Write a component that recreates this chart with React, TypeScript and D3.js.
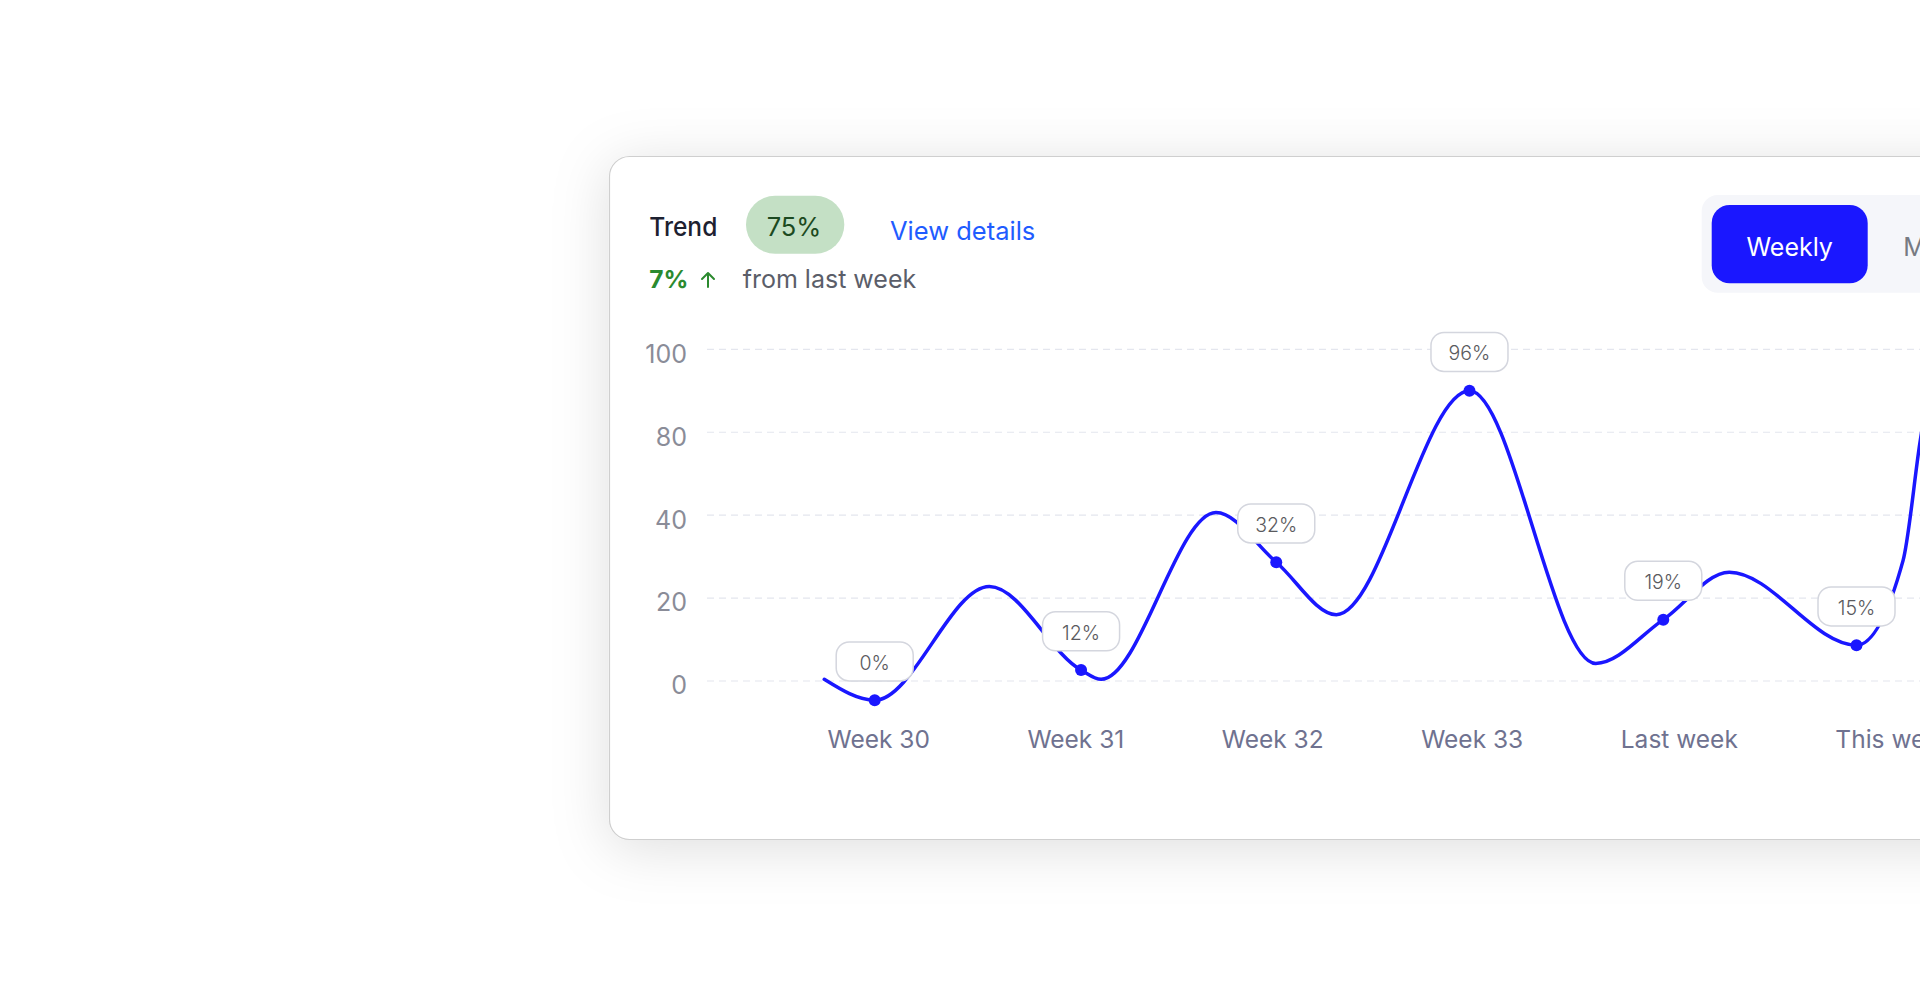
import React, { useEffect, useRef } from "react";
import * as d3 from "d3";

// ---- data ----
const weekLabels = ["Week 30", "Week 31", "Week 32", "Week 33", "Last week", "This week"];
const pointLabels = ["0%", "12%", "32%", "96%", "19%", "15%"];
const yTickValues = [0, 25, 50, 75, 100];
const yTickLabels = ["0", "20", "40", "80", "100"];
// smooth trend curve samples: position in weeks (0 = Week 30) and value on the axis scale
const curveT = [-0.257, 0, 0.584, 1.051, 1.153, 1.738, 2.045, 2.351, 3.029, 3.672, 4.016, 4.352, 5, 5.237, 5.323, 5.45];
const curveV = [0.5, -5.8, 28.5, 3.3, 0.5, 50.8, 35.8, 20, 87.5, 5.3, 18.5, 32.8, 10.8, 36.3, 71.8, 115];
// which curve samples carry a labelled marker
const markerIndex = [1, 3, 6, 8, 10, 12];

const headerTitle = "Trend";
const headerValue = "75%";
const headerLink = "View details";
const changeValue = "7%";
const changeText = "from last week";
const toggleOptions = ["Weekly", "Monthly"];

const FONT = "Inter, 'Noto Sans', sans-serif";
const BLUE = "#1a17ff";

export default function App() {
  const ref = useRef<SVGSVGElement>(null);

  useEffect(() => {
    const svg = d3.select(ref.current);
    svg.selectAll("*").remove();

    const defs = svg.append("defs");
    const f = defs
      .append("filter")
      .attr("id", "cardShadow")
      .attr("x", "-20%")
      .attr("y", "-30%")
      .attr("width", "140%")
      .attr("height", "160%");
    f.append("feDropShadow")
      .attr("dx", 0)
      .attr("dy", 8)
      .attr("stdDeviation", 28)
      .attr("flood-color", "#000")
      .attr("flood-opacity", 0.13);

    // card
    svg
      .append("rect")
      .attr("x", 609.5)
      .attr("y", 156.5)
      .attr("width", 1400)
      .attr("height", 683)
      .attr("rx", 20)
      .attr("fill", "#fff")
      .attr("stroke", "#cfcfcf")
      .attr("stroke-width", 1.2)
      .attr("filter", "url(#cardShadow)");

    // header
    const g = svg.append("g").attr("font-family", FONT);
    g.append("text")
      .attr("x", 649.3)
      .attr("y", 235.7)
      .attr("font-size", 26)
      .attr("font-weight", 500)
      .attr("fill", "#1d2130")
      .attr("textLength", 68)
      .attr("lengthAdjust", "spacingAndGlyphs")
      .text(headerTitle);
    g.append("rect")
      .attr("x", 746)
      .attr("y", 195.7)
      .attr("width", 98.3)
      .attr("height", 58)
      .attr("rx", 29)
      .attr("fill", "#c4e0c5");
    g.append("text")
      .attr("x", 794)
      .attr("y", 236)
      .attr("text-anchor", "middle")
      .attr("font-size", 25.5)
      .attr("fill", "#1c4a21")
      .text(headerValue);
    g.append("text")
      .attr("x", 890)
      .attr("y", 240)
      .attr("font-size", 25.5)
      .attr("fill", "#1f5cff")
      .text(headerLink);
    g.append("text")
      .attr("x", 649.3)
      .attr("y", 287.7)
      .attr("font-size", 24.5)
      .attr("font-weight", 700)
      .attr("fill", "#2b8a2f")
      .text(changeValue);
    g.append("path")
      .attr("d", "M708,287 V273 M702,279 L708,273 L714,279")
      .attr("fill", "none")
      .attr("stroke", "#2b8a2f")
      .attr("stroke-width", 2)
      .attr("stroke-linecap", "round")
      .attr("stroke-linejoin", "round");
    g.append("text")
      .attr("x", 742.7)
      .attr("y", 287.7)
      .attr("font-size", 25)
      .attr("fill", "#5b5e69")
      .text(changeText);

    // toggle
    g.append("rect")
      .attr("x", 1701.7)
      .attr("y", 195)
      .attr("width", 400)
      .attr("height", 97.7)
      .attr("rx", 16)
      .attr("fill", "#f5f6fa");
    g.append("rect")
      .attr("x", 1711.7)
      .attr("y", 205)
      .attr("width", 156)
      .attr("height", 78.3)
      .attr("rx", 18)
      .attr("fill", BLUE);
    g.append("text")
      .attr("x", 1789.7)
      .attr("y", 256)
      .attr("text-anchor", "middle")
      .attr("font-size", 25)
      .attr("fill", "#fff")
      .text(toggleOptions[0]);
    g.append("text")
      .attr("x", 1903.3)
      .attr("y", 256)
      .attr("font-size", 25)
      .attr("fill", "#777a82")
      .text(toggleOptions[1]);

    // scales
    const x = d3.scaleLinear().domain([0, 5]).range([874.7, 1856.5]);
    const y = d3.scaleLinear().domain([0, 100]).range([681, 349.3]);

    // grid + y labels
    const grid = svg.append("g").attr("font-family", FONT);
    yTickValues.forEach((v, i) => {
      grid
        .append("line")
        .attr("x1", 707)
        .attr("x2", 1920)
        .attr("y1", y(v))
        .attr("y2", y(v))
        .attr("stroke", "#e4e6ee")
        .attr("stroke-width", 1.2)
        .attr("stroke-dasharray", "7 5");
      grid
        .append("text")
        .attr("x", 687)
        .attr("y", y(v) + 13.4)
        .attr("text-anchor", "end")
        .attr("font-size", 25)
        .attr("fill", "#8a8c98")
        .text(yTickLabels[i]);
    });

    // curve
    const pts = curveT.map((t, i) => ({ t, v: curveV[i] }));
    const line = d3
      .line<{ t: number; v: number }>()
      .x((d) => x(d.t))
      .y((d) => y(d.v))
      .curve(d3.curveMonotoneX);
    svg
      .append("path")
      .attr("d", line(pts) as string)
      .attr("fill", "none")
      .attr("stroke", BLUE)
      .attr("stroke-width", 3.5)
      .attr("stroke-linecap", "round");

    // markers + label boxes
    const mk = svg.append("g").attr("font-family", FONT);
    markerIndex.forEach((idx, i) => {
      const cx = x(curveT[idx]);
      const cy = y(curveV[idx]);
      mk.append("circle").attr("cx", cx).attr("cy", cy).attr("r", 6).attr("fill", BLUE);
      const top = cy - 58.3;
      mk.append("rect")
        .attr("x", cx - 38.5)
        .attr("y", top)
        .attr("width", 77)
        .attr("height", 39)
        .attr("rx", 13)
        .attr("fill", "#fff")
        .attr("stroke", "#d4d6de")
        .attr("stroke-width", 1.5);
      mk.append("text")
        .attr("x", cx)
        .attr("y", top + 19.5 + 8.5)
        .attr("text-anchor", "middle")
        .attr("font-size", 19.5)
        .attr("font-weight", 300)
        .attr("fill", "#5a5a5e")
        .text(pointLabels[i]);
    });

    // x labels (flowing row with a fixed gap)
    const xl = svg.append("g").attr("font-family", FONT);
    const texts = weekLabels.map((lab) =>
      xl
        .append("text")
        .attr("y", 747.7)
        .attr("font-size", 24.5)
        .attr("fill", "#6f7290")
        .text(lab)
    );
    const widths = texts.map((t) => (t.node() as SVGTextElement).getComputedTextLength());
    let left = x(0) - widths[0] / 2 + 4;
    texts.forEach((t, i) => {
      t.attr("x", left);
      left += widths[i] + 97.5;
    });
  }, []);

  return (
    <div
      style={{
        position: "absolute",
        left: 0,
        top: 0,
        width: 1920,
        height: 996,
        overflow: "hidden",
        background: "#fff",
      }}
    >
      <svg ref={ref} width={1920} height={996} style={{ display: "block" }} />
    </div>
  );
}
